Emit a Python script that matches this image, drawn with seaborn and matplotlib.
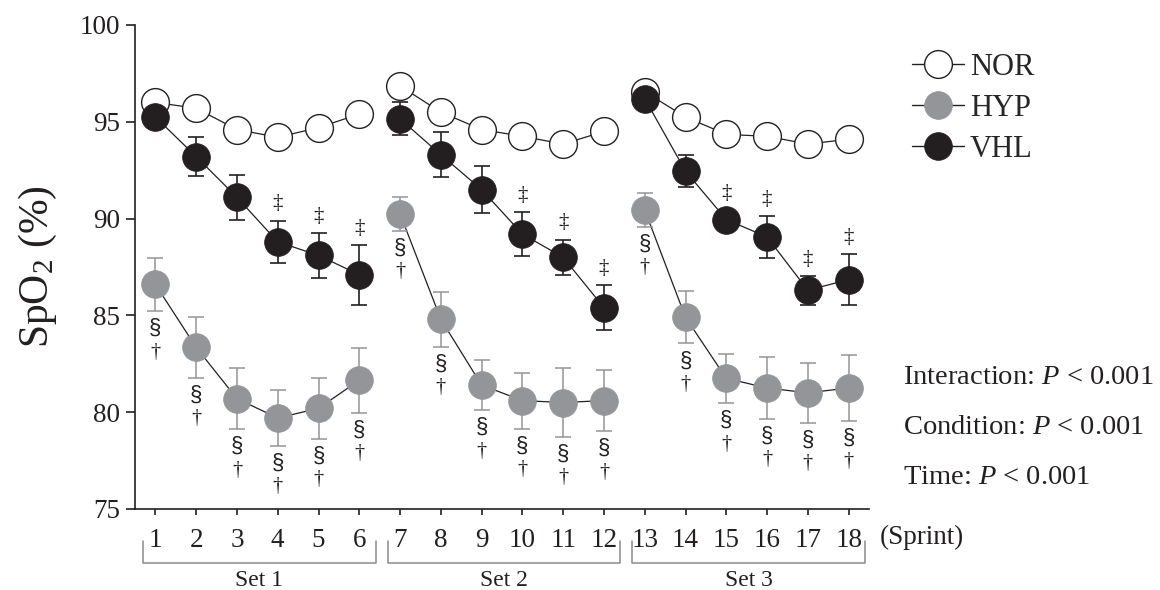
import numpy as np
import pandas as pd
import matplotlib
matplotlib.use("Agg")
import matplotlib.pyplot as plt
import matplotlib.transforms as mtransforms
from matplotlib.lines import Line2D
import seaborn as sns

# ---- data -------------------------------------------------------------
sprints = list(range(1, 19))
set_names = ["Set 1", "Set 2", "Set 3"]
set_of_sprint = ["Set 1"] * 6 + ["Set 2"] * 6 + ["Set 3"] * 6
conditions = ["NOR", "HYP", "VHL"]

nor_mean = [96.0, 95.7, 94.6, 94.2, 94.7, 95.4,
            96.85, 95.5, 94.6, 94.25, 93.85, 94.5,
            96.55, 95.25, 94.35, 94.25, 93.85, 94.1]
hyp_mean = [86.6, 83.35, 80.7, 79.7, 80.2, 81.65,
            90.25, 84.8, 81.4, 80.6, 80.5, 80.6,
            90.45, 84.9, 81.75, 81.25, 81.0, 81.25]
hyp_sem = [1.38, 1.58, 1.58, 1.43, 1.57, 1.67,
           0.88, 1.43, 1.29, 1.45, 1.77, 1.58,
           0.88, 1.35, 1.28, 1.58, 1.55, 1.7]
vhl_mean = [95.25, 93.2, 91.1, 88.8, 88.1, 87.1,
            95.15, 93.3, 91.5, 89.2, 88.0, 85.4,
            96.2, 92.45, 89.95, 89.05, 86.3, 86.85]
vhl_sem = [0.5, 1.0, 1.15, 1.1, 1.15, 1.55,
           0.85, 1.17, 1.2, 1.15, 0.92, 1.16,
           0.5, 0.83, 0.5, 1.08, 0.75, 1.3]

# sprints flagged vs. HYP (double dagger above VHL)
vhl_flagged = [4, 5, 6, 10, 11, 12, 15, 16, 17, 18]
# sprints flagged for HYP (section sign + dagger below)
hyp_flagged = sprints

stats_lines = ["Interaction: $P$ < 0.001",
               "Condition: $P$ < 0.001",
               "Time: $P$ < 0.001"]

# ---- style ------------------------------------------------------------
sns.set_style("ticks")
plt.rcParams["font.family"] = ["Liberation Serif", "DejaVu Serif"]
plt.rcParams["mathtext.fontset"] = "custom"
plt.rcParams["mathtext.rm"] = "Liberation Serif"
plt.rcParams["mathtext.it"] = "Liberation Serif:italic"

INK = "#231f20"
GREY = "#939598"
BRACKET = "#8a8a8a"

df = pd.DataFrame({
    "sprint": sprints * 3,
    "spo2": nor_mean + hyp_mean + vhl_mean,
    "condition": ["NOR"] * 18 + ["HYP"] * 18 + ["VHL"] * 18,
    "set": set_of_sprint * 3,
})

fig = plt.figure(figsize=(11.6, 5.9), dpi=100)
ax = fig.add_axes([135 / 1160, 81 / 590, 734 / 1160, 484 / 590])

# thin connecting lines, broken between sets
sns.lineplot(data=df, x="sprint", y="spo2", hue="condition", units="set",
             estimator=None, palette={c: INK for c in conditions},
             lw=0.9, legend=False, ax=ax, zorder=1)

# error bars (SEM)
ax.errorbar(sprints, hyp_mean, yerr=hyp_sem, fmt="none", ecolor=GREY,
            elinewidth=1.1, capsize=5.5, capthick=1.1, zorder=2)
ax.errorbar(sprints, vhl_mean, yerr=vhl_sem, fmt="none", ecolor=INK,
            elinewidth=1.2, capsize=5.5, capthick=1.2, zorder=2)

# markers
marker_area = 400
styles = {
    "NOR": dict(color="white", edgecolor=INK, linewidth=1.0, zorder=3),
    "HYP": dict(color=GREY, edgecolor=GREY, linewidth=0.5, zorder=3),
    "VHL": dict(color=INK, edgecolor=INK, linewidth=0.5, zorder=4),
}
for cond in conditions:
    sub = df[df["condition"] == cond]
    sns.scatterplot(data=sub, x="sprint", y="spo2", s=marker_area,
                    legend=False, ax=ax, **styles[cond])

# significance symbols
for sp in vhl_flagged:
    i = sp - 1
    ax.annotate("\u2021", (sp, vhl_mean[i] + vhl_sem[i]), xytext=(0, 12),
                textcoords="offset points", ha="center", va="center",
                fontsize=15, color=INK)
for sp in hyp_flagged:
    i = sp - 1
    base = (sp, hyp_mean[i] - hyp_sem[i])
    ax.annotate("\u00a7", base, xytext=(0, -12.5), textcoords="offset points",
                ha="center", va="center", fontsize=16, color=INK,
                family=["Liberation Sans", "DejaVu Sans"])
    ax.annotate("\u2020", base, xytext=(0, -29.5), textcoords="offset points",
                ha="center", va="center", fontsize=14.5, color=INK)

# axes
ax.set_xlim(0.5, 18.5)
ax.set_ylim(75, 100)
ax.set_xticks(sprints)
ax.set_xticklabels([str(s) for s in sprints])
ax.set_yticks(np.arange(75, 101, 5))
ax.set_xlabel("")
ax.set_ylabel("SpO$_2$ (%)", fontsize=30, color=INK)
ax.yaxis.set_label_coords(-0.104, 0.5)
sns.despine(ax=ax)
for side in ("left", "bottom"):
    ax.spines[side].set_linewidth(1.2)
    ax.spines[side].set_color(INK)
ax.tick_params(axis="y", length=6.5, width=1.2, pad=4, labelsize=19.5,
               color=INK, labelcolor=INK)
ax.tick_params(axis="x", length=4.5, width=1.2, pad=9, labelsize=19.5,
               color=INK, labelcolor=INK)

# set brackets below the sprint numbers
trans = mtransforms.blended_transform_factory(ax.transData, ax.transAxes)
for k, name in enumerate(set_names):
    first = sprints[k * 6]
    last = sprints[k * 6 + 5]
    x0, x1 = first - 0.3, last + 0.4
    ax.plot([x0, x0, x1, x1], [-0.066, -0.112, -0.112, -0.066],
            transform=trans, color=BRACKET, lw=1.1, clip_on=False)
    ax.text((x0 + x1) / 2, -0.147, name, transform=trans, ha="center",
            va="center", fontsize=17, color=INK)

ax.text(18.77, -0.058, "(Sprint)", transform=trans, ha="left", va="center",
        fontsize=19.5, color=INK)

# legend
handles = [
    Line2D([], [], color=INK, lw=1.0, marker="o", markersize=20,
           markerfacecolor="white", markeredgecolor=INK, markeredgewidth=1.0),
    Line2D([], [], color=INK, lw=1.0, marker="o", markersize=20,
           markerfacecolor=GREY, markeredgecolor=GREY, markeredgewidth=0.5),
    Line2D([], [], color=INK, lw=1.0, marker="o", markersize=20,
           markerfacecolor=INK, markeredgecolor=INK, markeredgewidth=0.5),
]
fig.legend(handles, conditions, loc="upper left",
           bbox_to_anchor=(912 / 1160, 1 - 53 / 590), frameon=False,
           fontsize=22, handlelength=1.7, handletextpad=0.2,
           labelspacing=0.39, borderpad=0, borderaxespad=0, numpoints=1)

# statistics
for j, line in enumerate(stats_lines):
    fig.text(903 / 1160, 1 - (377 + 50 * j) / 590, line, ha="left",
             va="center", fontsize=20.5, color=INK)

fig.savefig("out.png", dpi=100)
